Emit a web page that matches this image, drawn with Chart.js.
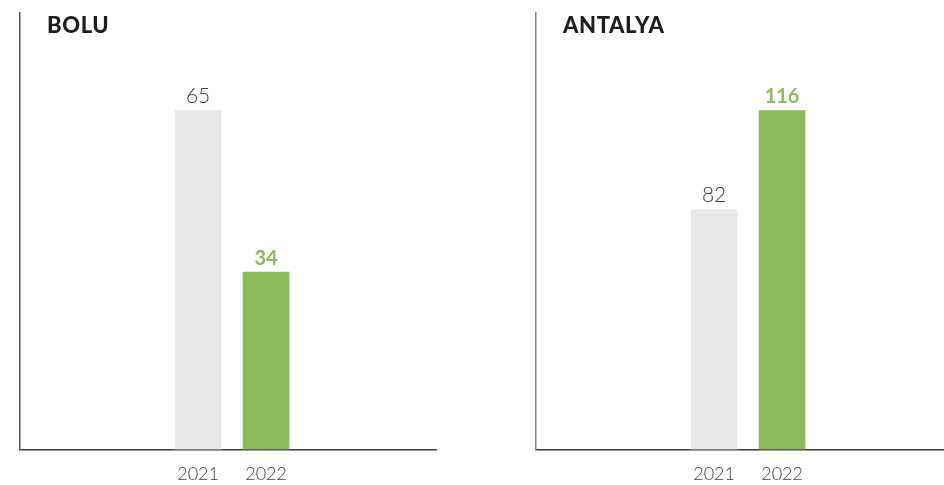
<!DOCTYPE html>
<html>
<head>
<meta charset="utf-8">
<script src="https://cdn.jsdelivr.net/npm/chart.js@4.4.1/dist/chart.umd.min.js"></script>
<style>
  html, body { margin: 0; padding: 0; background: #fff; overflow: hidden; }
  body { width: 944px; height: 485px; position: relative; }
  .panel { position: absolute; top: 0; width: 450px; height: 499px; }
  .title { position: absolute; top: 11px; font-family: Lato, sans-serif; font-weight: 900;
           font-size: 22px; color: #1d1d1b; letter-spacing: 0.6px; }
</style>
</head>
<body>
<div class="panel" style="left:0px"><canvas id="bolu" width="450" height="499"></canvas></div>
<div class="panel" style="left:516px"><canvas id="antalya" width="450" height="499"></canvas></div>
<div class="title" style="left:47px">BOLU</div>
<div class="title" style="left:563px">ANTALYA</div>
<script>
// data
var years = [2021, 2022];
var boluValues = [65, 34];
var antalyaValues = [82, 116];

var gray = '#e6e7e8';
var green = '#8cbb5a';
var barColors = [gray, green];

// value labels over each bar
var valueLabels = {
  id: 'valueLabels',
  afterDatasetsDraw: function(chart) {
    var ctx = chart.ctx;
    var meta = chart.getDatasetMeta(0);
    var vals = chart.data.datasets[0].data;
    ctx.save();
    ctx.textAlign = 'center';
    ctx.textBaseline = 'bottom';
    meta.data.forEach(function(bar, i) {
      if (i == 1) {
        ctx.font = 'bold 20px Lato, sans-serif';
        ctx.fillStyle = green;
      } else {
        ctx.font = '300 21px Lato, sans-serif';
        ctx.fillStyle = '#3c3c3b';
      }
      ctx.fillText(String(vals[i].y), bar.x, bar.y - 4);
    });
    ctx.restore();
  }
};

function makeChart(id, values, borderLeft) {
  var pts = years.map(function(y, i) { return {x: y, y: values[i]}; });
  var top = Math.max.apply(null, values);
  return new Chart(document.getElementById(id), {
    type: 'bar',
    data: {
      datasets: [{
        data: pts,
        backgroundColor: barColors,
        barThickness: 46
      }]
    },
    options: {
      responsive: false,
      animation: false,
      events: [],
      layout: { padding: { top: 13, right: 14, left: 20, bottom: 0 } },
      plugins: { legend: { display: false }, tooltip: { enabled: false } },
      scales: {
        x: {
          type: 'linear',
          offset: false,
          min: 2018.38,
          max: 2024.5,
          afterBuildTicks: function(scale) {
            scale.ticks = years.map(function(y) { return {value: y}; });
          },
          grid: { display: false, drawTicks: false },
          border: { display: true, color: '#3c3c3b', width: 1.5 },
          ticks: {
            padding: 14,
            maxRotation: 0,
            autoSkip: false,
            color: '#3c3c3b',
            font: { family: 'Lato, sans-serif', size: 18, weight: '300' },
            callback: function(v) { return String(v); }
          }
        },
        y: {
          min: 0,
          max: top * 438 / 340,
          grid: { display: false, drawTicks: false },
          border: { display: true, color: borderLeft, width: 1.5 },
          ticks: { display: false }
        }
      }
    },
    plugins: [valueLabels]
  });
}

makeChart('bolu', boluValues, '#555');
makeChart('antalya', antalyaValues, '#888');
</script>
</body>
</html>
